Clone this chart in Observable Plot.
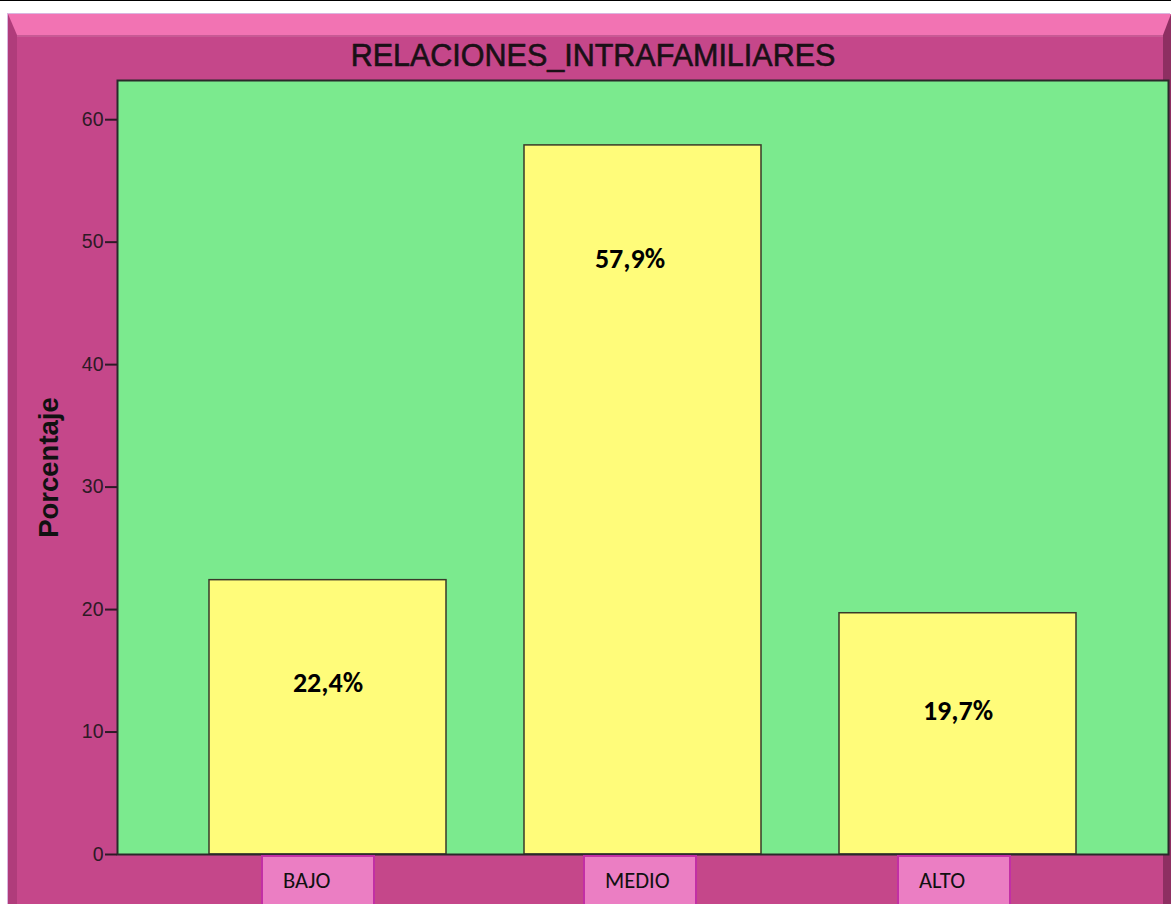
<!DOCTYPE html>
<html>
<head>
<meta charset="utf-8">
<script src="https://cdn.jsdelivr.net/npm/d3@7"></script>
<script src="https://cdn.jsdelivr.net/npm/@observablehq/plot@0.6"></script>
<style>
  html, body { margin: 0; padding: 0; background: #fff; }
  #page { position: relative; width: 1171px; height: 904px; overflow: hidden; background: #fff; border-top: 1px solid #000; box-sizing: border-box; }
  #frame {
    position: absolute; left: 8px; top: 13px; width: 1163px; height: 900px;
    box-sizing: border-box; background: #C5478A;
    border-top: 21px solid #F273B3;
    border-left: 9px solid #B03C7B;
    border-right: 8px solid #8E2F62;
    border-bottom: 0;
    box-shadow: -1px -1px 0 #D9B5E0, inset 0 2px 0 #C85A95;
  }
  #chart { position: absolute; left: 0; top: 0; }
</style>
</head>
<body>
<div id="page">
  <div id="frame"></div>
  <div id="chart"></div>
</div>
<script>
const categories = ["BAJO", "MEDIO", "ALTO"];
const values = [22.4, 57.9, 19.7];
const valueLabels = ["22,4%", "57,9%", "19,7%"];
const yTicks = [0, 10, 20, 30, 40, 50, 60];
const title = "RELACIONES_INTRAFAMILIARES";
const yLabel = "Porcentaje";

const data = categories.map((c, i) => ({cat: c, value: values[i], label: valueLabels[i]}));
const labelDy = [103, 114, 98];
const labelDx = [0, -13, 0];
const boxDx = [-9, -2, -3];

const plot = Plot.plot({
  width: 1171,
  height: 904,
  marginLeft: 117,
  marginRight: 3,
  marginTop: 79,
  marginBottom: 51,
  style: {background: "transparent", overflow: "visible"},
  x: {domain: categories, paddingInner: 0.248, paddingOuter: 0.292},
  y: {domain: [0, 63.2]},
  marks: [
    Plot.frame({fill: "#7BEA8E", stroke: "none"}),
    Plot.barY(data, {x: "cat", y: "value", fill: "#FFFC7A", stroke: "#3a3a2a", strokeWidth: 1.5}),
    Plot.frame({stroke: "#2a2a2a", strokeWidth: 2}),
    Plot.axisY({ticks: yTicks, tickSize: 12, tickPadding: 2, label: null, fontSize: 19.5, strokeWidth: 2,
      fontFamily: "Liberation Sans, Arial, sans-serif", color: "#2e1a26", stroke: "#2e1a26"}),
    Plot.axisX({ticks: [], label: null}),
    ...data.map((d, i) => Plot.barY([d], {x: "cat", y1: -0.16, y2: -6, fill: "#EB7EC3", stroke: "#C22FA5", strokeWidth: 2,
      insetLeft: 62, insetRight: 63, dx: boxDx[i]})),
    ...data.map((d, i) => Plot.text([d], {x: "cat", frameAnchor: "bottom", text: "cat", textAnchor: "start",
      dx: boxDx[i] - 36, dy: 26, lineAnchor: "middle",
      fontSize: 22.5, fontFamily: "Carlito, Lato, sans-serif", fill: "#111"})),
    ...data.map((d, i) => Plot.text([d], {x: "cat", y: "value", text: "label", dy: labelDy[i], dx: labelDx[i],
      fontSize: 28, fontWeight: "bold", fontFamily: "Carlito, Lato, sans-serif", fill: "#000"})),
    Plot.text([title], {frameAnchor: "top", text: d => d, dx: -50, dy: -24, lineAnchor: "middle", fontSize: 30.5,
      fontFamily: "Liberation Sans, Arial, sans-serif", fill: "#1a1016", stroke: "#1a1016", strokeWidth: 0.6}),
    Plot.text([yLabel], {frameAnchor: "left", text: d => d, rotate: -90, dx: -68, textAnchor: "middle",
      lineAnchor: "middle", fontSize: 27.5, fontWeight: "bold",
      fontFamily: "Liberation Sans, Arial, sans-serif", fill: "#111"})
  ]
});
document.getElementById("chart").appendChild(plot);
</script>
</body>
</html>
